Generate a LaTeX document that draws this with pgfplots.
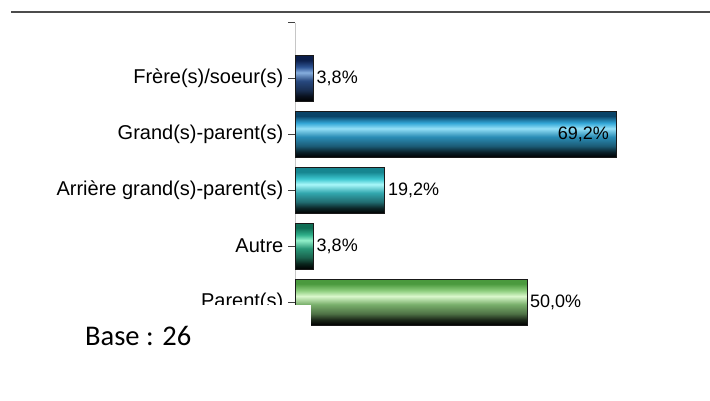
\documentclass[border=0pt]{standalone}
\usepackage{pgfplots}
\pgfplotsset{compat=1.18}
\usepackage{fontspec}
\setmainfont{Liberation Sans}
\newfontfamily\carlito{Carlito}

% Frere: navy
\definecolor{frM}{HTML}{2E5595}\definecolor{frH}{HTML}{86AEDE}\definecolor{frT}{HTML}{0B1E4A}
% Grand: blue-cyan
\definecolor{grM}{HTML}{32A6D6}\definecolor{grH}{HTML}{94E0F8}\definecolor{grT}{HTML}{0A4468}
% Arriere: turquoise
\definecolor{arM}{HTML}{3CC6CE}\definecolor{arH}{HTML}{AAF8FA}\definecolor{arT}{HTML}{168690}
% Autre: sea green
\definecolor{auM}{HTML}{2FB08A}\definecolor{auH}{HTML}{92F0CA}\definecolor{auT}{HTML}{0F6E55}
% Parent: light green
\definecolor{paM}{HTML}{8ECE7E}\definecolor{paH}{HTML}{DAF8CC}\definecolor{paT}{HTML}{4A9A3E}

\colorlet{frD}{frM!55!black}\colorlet{frV}{frM!20!black}
\colorlet{grD}{grM!55!black}\colorlet{grV}{grM!20!black}
\colorlet{arD}{arM!55!black}\colorlet{arV}{arM!20!black}
\colorlet{auD}{auM!55!black}\colorlet{auV}{auM!20!black}
\colorlet{paD}{paM!55!black}\colorlet{paV}{paM!20!black}
\colorlet{frN}{frM!85!black}\colorlet{grN}{grM!85!black}\colorlet{arN}{arM!85!black}\colorlet{auN}{auM!85!black}\colorlet{paN}{paM!85!black}

\pgfdeclareverticalshading{frS}{100bp}{color(0bp)=(black); color(25bp)=(black); color(31bp)=(frV); color(37.5bp)=(frD); color(47.5bp)=(frN); color(56.5bp)=(frH); color(62.5bp)=(frM); color(70bp)=(frT); color(75bp)=(frT); color(100bp)=(frT)}
\pgfdeclareverticalshading{grS}{100bp}{color(0bp)=(black); color(25bp)=(black); color(31bp)=(grV); color(37.5bp)=(grD); color(47.5bp)=(grN); color(56.5bp)=(grH); color(62.5bp)=(grM); color(70bp)=(grT); color(75bp)=(grT); color(100bp)=(grT)}
\pgfdeclareverticalshading{arS}{100bp}{color(0bp)=(black); color(25bp)=(black); color(31bp)=(arV); color(37.5bp)=(arD); color(47.5bp)=(arN); color(56.5bp)=(arH); color(62.5bp)=(arM); color(70bp)=(arT); color(75bp)=(arT); color(100bp)=(arT)}
\pgfdeclareverticalshading{auS}{100bp}{color(0bp)=(black); color(25bp)=(black); color(31bp)=(auV); color(37.5bp)=(auD); color(47.5bp)=(auN); color(56.5bp)=(auH); color(62.5bp)=(auM); color(70bp)=(auT); color(75bp)=(auT); color(100bp)=(auT)}
\pgfdeclareverticalshading{paS}{100bp}{color(0bp)=(black); color(25bp)=(black); color(31bp)=(paV); color(37.5bp)=(paD); color(47.5bp)=(paN); color(56.5bp)=(paH); color(62.5bp)=(paM); color(70bp)=(paT); color(75bp)=(paT); color(100bp)=(paT)}

\begin{document}
\begin{tikzpicture}
\path[use as bounding box] (0pt,0pt) rectangle (710pt,-401pt);
\draw[line width=2pt, black!70] (11pt,-12pt) -- (710pt,-12pt);
\begin{axis}[
  at={(295.5pt,-22.6pt)}, anchor=north west,
  scale only axis, width=371.2pt, height=335.4pt,
  xmin=0, xmax=80, ymin=-1, ymax=5, y dir=reverse,
  axis x line=none, axis y line*=left,
  clip=false,
  ytick={-1,0,1,2,3,4},
  yticklabels={,Frère(s)/soeur(s),Grand(s)-parent(s),Arrière grand(s)-parent(s),Autre,Parent(s)},
  tick align=outside, major tick length=7pt,
  y axis line style={gray!45, line width=1pt},
  ytick style={black!75, line width=1pt},
  yticklabel style={font=\fontsize{20}{22}\selectfont, inner sep=0pt, xshift=-5pt, text=black},
  xbar, bar width=46pt, bar shift=0pt,
  every node near coord/.append style={font=\fontsize{18}{20}\selectfont, text=black, inner sep=0pt},
]
\addplot[draw=black!90, line width=1.2pt, shade, shading=frS, nodes near coords={3,8\%}, every node near coord/.append style={anchor=west, xshift=3pt}] coordinates {(3.8,0)};
\addplot[draw=black!90, line width=1.2pt, shade, shading=grS, nodes near coords={69,2\%}, every node near coord/.append style={anchor=east, xshift=-7pt}] coordinates {(69.2,1)};
\addplot[draw=black!90, line width=1.2pt, shade, shading=arS, nodes near coords={19,2\%}, every node near coord/.append style={anchor=west, xshift=3pt}] coordinates {(19.2,2)};
\addplot[draw=black!90, line width=1.2pt, shade, shading=auS, nodes near coords={3,8\%}, every node near coord/.append style={anchor=west, xshift=3pt}] coordinates {(3.8,3)};
\addplot[draw=black!90, line width=1.2pt, shade, shading=paS, nodes near coords={50,0\%}, every node near coord/.append style={anchor=west, xshift=2pt}] coordinates {(50.0,4)};
\end{axis}
\fill[white] (0pt,-305pt) rectangle (311pt,-401pt);
\node[anchor=base west, inner sep=0pt, font=\carlito\fontsize{28.5}{32}\selectfont] at (85pt,-345pt) {Base : 26};
\end{tikzpicture}
\end{document}
